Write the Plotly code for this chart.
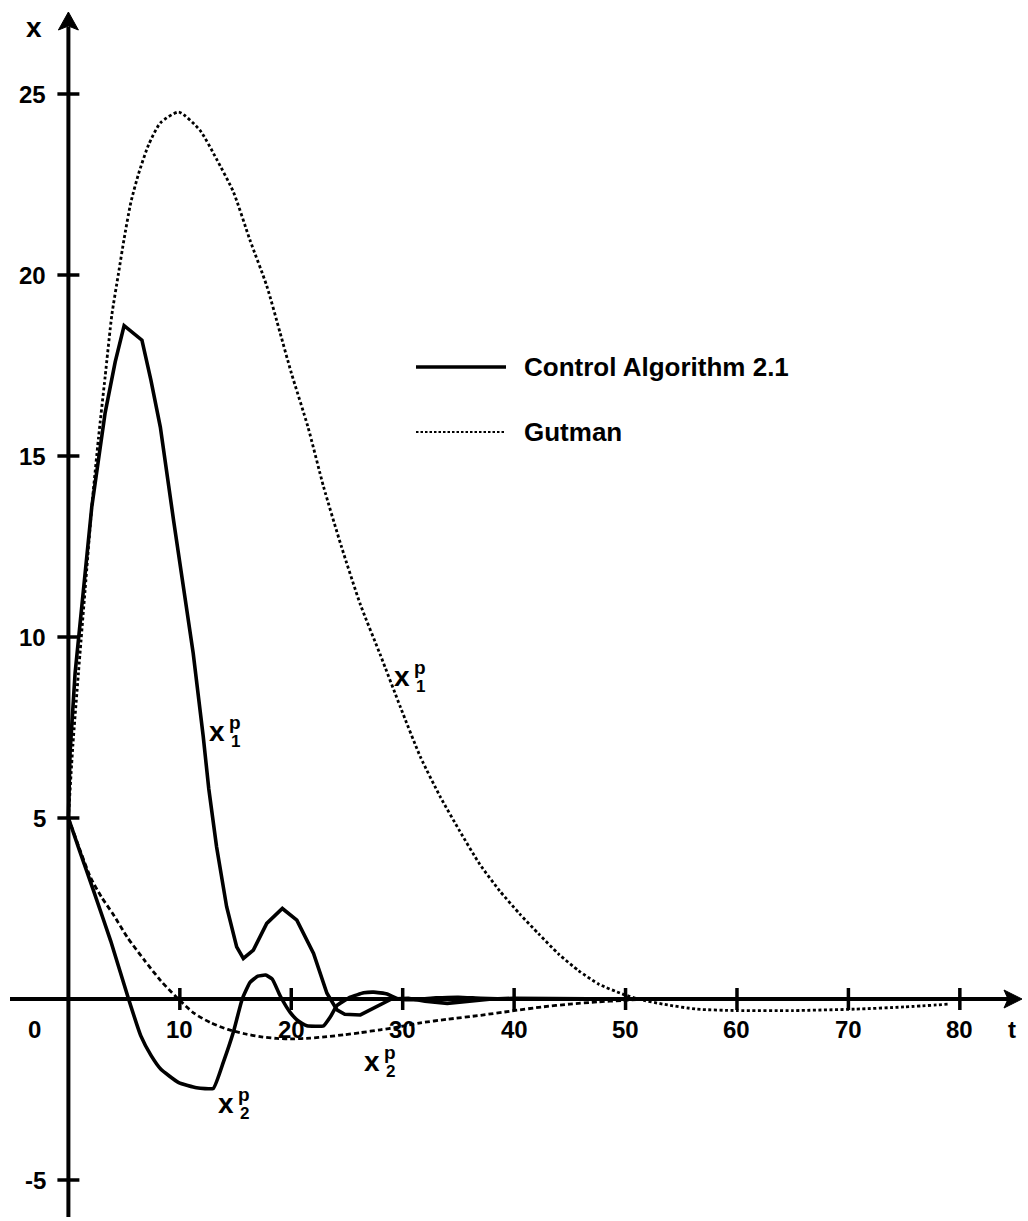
import plotly.graph_objects as go

# ---------------- data ----------------
ca_x1_t = [0, 0.15, 0.6, 1.37, 2.1, 3.3, 4.2, 5.0, 6.6, 7.4, 8.25, 9.45, 10.5, 11.2, 12.1, 12.6,
           13.3, 14.2, 15.1, 15.7, 16.6, 17.8, 19.2, 20.5, 22.0, 23.2, 24.1, 24.8, 26.2, 27.7,
           29.0, 30.5, 32, 34, 36, 38, 40, 45, 50]
ca_x1_v = [5, 6.8, 9.0, 11.4, 13.6, 16.2, 17.6, 18.6, 18.2, 17.1, 15.8, 13.2, 11.1, 9.55, 7.25, 5.8,
           4.2, 2.55, 1.44, 1.12, 1.35, 2.09, 2.5, 2.18, 1.26, 0.16, -0.30, -0.42, -0.44, -0.21,
           0.0, 0.02, -0.06, -0.12, -0.07, 0.0, 0.02, 0.0, 0.0]

ca_x2_t = [0, 1.0, 2.3, 3.8, 5.4, 6.5, 7.4, 8.3, 9.9, 11.5, 13.0, 13.9, 14.8, 15.6, 16.3, 17.0,
           17.7, 18.3, 19.0, 19.9, 20.6, 21.4, 22.9, 23.5, 24.1, 25.3, 26.5, 27.4, 28.6, 29.6,
           31, 33, 35, 37, 40, 45, 50]
ca_x2_v = [5, 4.1, 2.95, 1.6, 0.0, -1.02, -1.55, -1.94, -2.31, -2.45, -2.47, -1.75, -0.92, 0.0, 0.46, 0.63,
           0.66, 0.55, 0.09, -0.37, -0.6, -0.74, -0.74, -0.5, -0.18, 0.05, 0.17, 0.19, 0.14, 0.0,
           -0.02, 0.03, 0.05, 0.02, 0.0, 0.0, 0.0]

gut_x1_t = [0, 0.4, 0.9, 1.5, 2.1, 2.7, 3.3, 3.9, 4.5, 5.0, 5.6, 6.3, 7.2, 8.25, 9.9, 11.8, 13.3,
            14.8, 16.3, 17.8, 19.0, 20.0, 21.5, 22.9, 24.5, 26.2, 28.0, 29.8, 31.6, 33.4, 35.1,
            36.9, 38.7, 40.5, 42.2, 44.0, 45.8, 47.6, 49.7, 51.1, 53.5, 56.4, 60, 65, 70.6, 75, 79.1]
gut_x1_v = [5, 7.0, 9.0, 11.3, 13.6, 15.5, 17.2, 18.9, 20.05, 21.0, 22.0, 22.8, 23.6, 24.2, 24.5, 24.0, 23.2,
            22.3, 20.96, 19.7, 18.4, 17.3, 15.8, 14.15, 12.5, 10.9, 9.5, 8.06, 6.68, 5.57, 4.65,
            3.73, 2.99, 2.35, 1.80, 1.24, 0.78, 0.41, 0.14, 0.0, -0.15, -0.28, -0.32, -0.32, -0.28, -0.22, -0.14]

gut_x2_t = [0, 1, 2, 3, 4, 5.3, 6.8, 8.3, 9.7, 11.3, 12.8, 14.3, 15.8, 17.2, 18.7, 20.2, 21.7,
            23.2, 24.7, 26.2, 28, 29.5, 31.6, 34, 37, 39.8, 42.5, 45, 47.5, 49.7, 52]
gut_x2_v = [5, 4.15, 3.35, 2.8, 2.35, 1.7, 1.08, 0.5, 0.05, -0.4, -0.66, -0.84, -0.96, -1.04, -1.09, -1.1, -1.08,
            -1.04, -0.99, -0.93, -0.85, -0.78, -0.66, -0.56, -0.45, -0.33, -0.22, -0.14, -0.08, -0.04, 0]

x_ticks = [10, 20, 30, 40, 50, 60, 70, 80]
y_ticks = [25, 20, 15, 10, 5, -5]
legend_labels = ["Control Algorithm 2.1", "Gutman"]

# ---------------- layout geometry ----------------
W, H = 1028, 1221
PX_T = 11.143      # pixels per unit of t
PX_V = 36.2        # pixels per unit of x
X0_PX, Y0_PX = 68.4, 999   # pixel of origin
x_range = [-X0_PX / PX_T, (W - X0_PX) / PX_T]
y_range = [(Y0_PX - H) / PX_V, Y0_PX / PX_V]

FONT = "Liberation Sans, Arial, Helvetica, sans-serif"
BLACK = "#000000"

fig = go.Figure()

solid = dict(color=BLACK, width=3.6)
dotted = dict(color=BLACK, width=2.8, dash="3px,2.5px")

fig.add_trace(go.Scatter(x=gut_x1_t, y=gut_x1_v, mode="lines",
                         line=dict(**dotted, shape="spline", smoothing=0.6), name="Gutman x1"))
fig.add_trace(go.Scatter(x=gut_x2_t, y=gut_x2_v, mode="lines",
                         line=dict(color=BLACK, width=2.8, dash="5px,3px", shape="spline", smoothing=0.6),
                         name="Gutman x2"))
fig.add_trace(go.Scatter(x=ca_x1_t, y=ca_x1_v, mode="lines", line=solid, name="Control x1"))
fig.add_trace(go.Scatter(x=ca_x2_t, y=ca_x2_v, mode="lines",
                         line=dict(**solid, shape="spline", smoothing=0.4), name="Control x2"))

shapes = []
ann = []
# x axis line
t_left = (10 - X0_PX) / PX_T
t_tip = (1022 - X0_PX) / PX_T
v_bottom = (Y0_PX - 1217) / PX_V
v_tip = (Y0_PX - 12) / PX_V
shapes.append(dict(type="line", xref="x", yref="y", x0=t_left, x1=t_tip - 1.0, y0=0, y1=0,
                   line=dict(color=BLACK, width=4)))
shapes.append(dict(type="line", xref="x", yref="y", x0=0, x1=0, y0=v_bottom, y1=v_tip - 0.4,
                   line=dict(color=BLACK, width=4)))
# arrowheads (pixel-sized paths anchored at the tips)
shapes.append(dict(type="path", xref="x", yref="y", xsizemode="pixel", ysizemode="pixel",
                   xanchor=t_tip, yanchor=0,
                   path="M0,0 L-18,9 L-14,0 L-18,-9 Z", fillcolor=BLACK, line=dict(color=BLACK, width=1)))
shapes.append(dict(type="path", xref="x", yref="y", xsizemode="pixel", ysizemode="pixel",
                   xanchor=0, yanchor=v_tip,
                   path="M0,0 L-10,-18 L0,-14 L10,-18 Z", fillcolor=BLACK, line=dict(color=BLACK, width=1)))
# ticks
for tv in x_ticks:
    shapes.append(dict(type="line", xref="x", yref="y", ysizemode="pixel", yanchor=0,
                       x0=tv, x1=tv, y0=-11, y1=11, line=dict(color=BLACK, width=3.5)))
    ann.append(dict(x=tv, y=0, xref="x", yref="y", text=str(tv), showarrow=False,
                    yshift=-30, font=dict(family=FONT, size=24, color=BLACK, weight="bold")))
for yv in y_ticks:
    shapes.append(dict(type="line", xref="x", yref="y", xsizemode="pixel", xanchor=0,
                       x0=-11, x1=11, y0=yv, y1=yv, line=dict(color=BLACK, width=3.5)))
    ann.append(dict(x=0, y=yv, xref="x", yref="y", text=str(yv), showarrow=False,
                    xanchor="right", xshift=-20, font=dict(family=FONT, size=24, color=BLACK, weight="bold")))
# origin label, axis names
ann.append(dict(x=0, y=0, xref="x", yref="y", text="0", showarrow=False, xshift=-34, yshift=-30,
                font=dict(family=FONT, size=24, color=BLACK, weight="bold")))
ann.append(dict(x=t_tip, y=0, xref="x", yref="y", text="t", showarrow=False, xshift=-10, yshift=-30,
                font=dict(family=FONT, size=24, color=BLACK, weight="bold")))
ann.append(dict(x=0, y=v_tip, xref="x", yref="y", text="x", showarrow=False, xshift=-34, yshift=-15,
                font=dict(family=FONT, size=28, color=BLACK, weight="bold")))

# curve labels: x with stacked superscript p and subscript index
curve_labels = [(13.36, 7.4, "1"), (29.96, 8.9, "1"), (14.17, -2.9, "2"), (27.26, -1.74, "2")]
for lx, ly, idx in curve_labels:
    ann.append(dict(x=lx, y=ly, xref="x", yref="y", text="x", showarrow=False,
                    font=dict(family=FONT, size=28, color=BLACK, weight="bold")))
    ann.append(dict(x=lx, y=ly, xref="x", yref="y", text="p", showarrow=False, xshift=18, yshift=9,
                    font=dict(family=FONT, size=19, color=BLACK, weight="bold")))
    ann.append(dict(x=lx, y=ly, xref="x", yref="y", text=idx, showarrow=False, xshift=18, yshift=-10,
                    font=dict(family=FONT, size=17, color=BLACK, weight="bold")))

# legend (drawn manually)
leg_rows = [(367, dict(color=BLACK, width=3.6)), (432, dict(color=BLACK, width=2, dash="2.5px,2px"))]
for (py, lstyle), label in zip(leg_rows, legend_labels):
    yp = 1 - py / H
    shapes.append(dict(type="line", xref="paper", yref="paper", x0=416 / W, x1=506 / W, y0=yp, y1=yp,
                       line=lstyle))
    ann.append(dict(x=522 / W, y=yp, xref="paper", yref="paper", text=label, showarrow=False,
                    xanchor="left", yanchor="middle",
                    font=dict(family=FONT, size=26, color=BLACK, weight="bold")))

fig.update_layout(
    width=W, height=H,
    margin=dict(l=0, r=0, t=0, b=0),
    paper_bgcolor="white", plot_bgcolor="white",
    showlegend=False,
    xaxis=dict(range=x_range, visible=False, fixedrange=True),
    yaxis=dict(range=y_range, visible=False, fixedrange=True),
    shapes=shapes, annotations=ann,
)

fig.write_html("out.html", config={"displayModeBar": False},
               post_script="document.body.style.margin='0';document.body.style.overflow='hidden';")
